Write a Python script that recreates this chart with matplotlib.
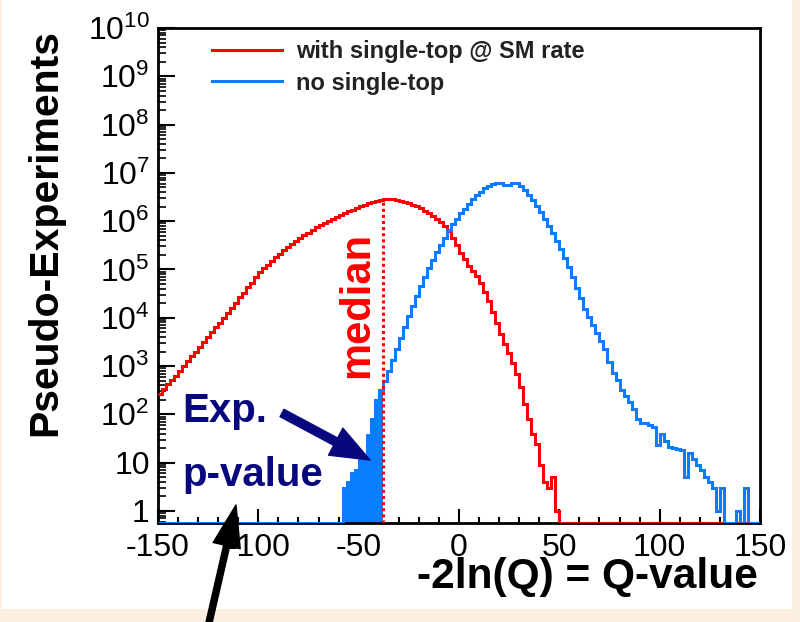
import numpy as np
import matplotlib
matplotlib.use("Agg")
import matplotlib.pyplot as plt
from matplotlib.patches import Rectangle
from matplotlib.ticker import LogLocator, FuncFormatter, MultipleLocator, NullFormatter

plt.rcParams['font.family'] = ['Liberation Sans', 'DejaVu Sans']
plt.rcParams['mathtext.fontset'] = 'custom'
plt.rcParams['mathtext.rm'] = 'Liberation Sans'
plt.rcParams['axes.unicode_minus'] = False

# binning of the -2ln(Q) histograms
q_min, q_max, q_step = -150, 150, 2
median_q = -38

# with single-top @ SM rate: bins starting at -150, empty above 50
red_counts = [
    270, 330, 415, 510, 630, 790, 1000, 1260, 1580, 2000,
    2510, 3160, 3980, 5010, 6310, 7940, 10000, 12600, 16200, 20400,
    26300, 33100, 42700, 53700, 69200, 87100, 105000, 126000, 151000, 182000,
    214000, 251000, 288000, 331000, 389000, 447000, 513000, 575000, 661000, 741000,
    832000, 923000, 1.02e6, 1.12e6, 1.24e6, 1.36e6, 1.48e6, 1.60e6, 1.74e6, 1.88e6,
    2.04e6, 2.19e6, 2.34e6, 2.48e6, 2.66e6, 2.79e6, 2.85e6, 2.88e6, 2.82e6, 2.72e6,
    2.63e6, 2.45e6, 2.34e6, 2.19e6, 2.07e6, 1.86e6, 1.66e6, 1.45e6, 1.26e6, 1.12e6,
    955000, 776000, 631000, 447000, 316000, 224000, 166000, 120000, 93300, 72400,
    51300, 34700, 21900, 12900, 7760, 4570, 2820, 1820, 1170, 690,
    363, 166, 79, 40, 24, 9, 4, 3, 5, 1,
]

# no single-top: bins starting at -58, empty below
blue_start = -58
blue_counts = [
    3, 4, 6, 7, 12, 13, 37, 80, 195, 316,
    480, 790, 1350, 2290, 3890, 6460, 10700, 17800, 28800, 45700,
    70800, 107000, 158000, 229000, 324000, 457000, 646000, 871000, 1.12e6, 1.45e6,
    1.82e6, 2.29e6, 2.82e6, 3.47e6, 4.07e6, 4.79e6, 5.37e6, 5.82e6, 6.10e6, 6.17e6,
    5.62e6, 5.50e6, 6.10e6, 6.03e6, 5.25e6, 4.47e6, 3.55e6, 2.75e6, 2.09e6, 1.55e6,
    1.12e6, 794000, 562000, 389000, 263000, 174000, 112000, 69200, 41700, 25100,
    15100, 10500, 7240, 4900, 3310, 2240, 1200, 710, 525, 316,
    240, 178, 132, 79, 65, 65, 60, 55, 23, 40,
    28, 21, 20, 19, 18, 5, 16, 12, 9, 7,
    5, 4, 3, 1, 3, 0, 0, 0, 1, 0,
    3, 0, 0, 0,
]

RED = '#ff0000'
BLUE = '#0a7cff'
NAVY = '#08087e'
y_floor = 10 ** -0.25

edges = np.arange(q_min, q_max + q_step, q_step)
nbins = len(edges) - 1
red = np.zeros(nbins)
red[:len(red_counts)] = red_counts
blue = np.zeros(nbins)
i0 = (blue_start - q_min) // q_step
blue[i0:i0 + len(blue_counts)] = blue_counts
# empty bins sit on the bottom of the frame, as in ROOT
red_plot = np.where(red > 0, red, y_floor)
blue_plot = np.where(blue > 0, blue, y_floor)
k_med = (median_q - q_min) // q_step

fig = plt.figure(figsize=(8, 6.22), dpi=100, facecolor='#fcefdf')
fig.patches.append(Rectangle((2 / 800, 13 / 622), 790 / 800, 609 / 622,
                             transform=fig.transFigure, facecolor='white',
                             edgecolor='none', zorder=-1))
ax = fig.add_axes([158 / 800, 1 - 523 / 622, 602 / 800, 495 / 622])

h_red = ax.stairs(red_plot, edges, color=RED, lw=2.2, baseline=None, zorder=3)
ax.stairs(blue_plot[:k_med], edges[:k_med + 1], fill=True, baseline=y_floor,
          color=BLUE, lw=0, zorder=2)
h_blue = ax.stairs(blue_plot, edges, color=BLUE, lw=2.2, baseline=None, zorder=4)
ax.vlines(median_q, y_floor, red[k_med], colors=RED, lw=2.2,
          linestyles=(0, (1, 1)), zorder=5)

ax.set_yscale('log')
ax.set_xlim(q_min, q_max)
ax.set_ylim(y_floor, 1e10)

ax.xaxis.set_major_locator(MultipleLocator(50))
ax.xaxis.set_minor_locator(MultipleLocator(10))
ax.yaxis.set_major_locator(LogLocator(base=10, numticks=20))
ax.yaxis.set_minor_locator(LogLocator(base=10, subs=np.arange(2, 10), numticks=20))
ax.yaxis.set_minor_formatter(NullFormatter())


def ylab(v, pos):
    e = int(round(np.log10(v)))
    if e == 0:
        return '1'
    if e == 1:
        return '10'
    return r'$\mathregular{10^{%d}}$' % e


ax.yaxis.set_major_formatter(FuncFormatter(ylab))
ax.tick_params(axis='both', which='both', direction='in', top=False, right=False)
ax.tick_params(axis='x', which='major', length=10, width=1.5, labelsize=23, pad=7)
ax.tick_params(axis='x', which='minor', length=4.5, width=1.5)
ax.tick_params(axis='y', which='major', length=12, width=1.5, labelsize=23, pad=6)
ax.tick_params(axis='y', which='minor', length=6, width=1.2)
for s in ax.spines.values():
    s.set_linewidth(2)

fig.text(45 / 800, 1 - 233 / 622, 'Pseudo-Experiments', rotation=90,
         ha='center', va='center', fontsize=29.5, fontweight='bold')
fig.text(758 / 800, 1 - 577 / 622, '-2ln(Q) = Q-value', ha='right',
         va='center', fontsize=30.5, fontweight='bold')

ax.legend([h_red, h_blue], ['with single-top @ SM rate', 'no single-top'],
          loc='upper left', bbox_to_anchor=(0.0897, 0.975), frameon=False,
          prop={'size': 17, 'weight': 'bold'}, labelcolor='#222222',
          handlelength=2.95, handletextpad=0.6, labelspacing=0.35,
          borderaxespad=0, borderpad=0)

ax.text(0.3306, 0.4404, 'median', transform=ax.transAxes, rotation=90,
        ha='center', va='center', color=RED, fontsize=30, fontweight='bold')
ax.text(0.04, 0.2047, 'Exp.', transform=ax.transAxes, ha='left',
        va='baseline', color=NAVY, fontsize=29, fontweight='bold')
ax.text(0.04, 0.0747, 'p-value', transform=ax.transAxes, ha='left',
        va='baseline', color=NAVY, fontsize=29, fontweight='bold')

ax.annotate('', xy=(370, 162), xytext=(282, 209), xycoords='figure pixels',
            arrowprops=dict(arrowstyle='simple,head_length=1.4,head_width=1.1,tail_width=0.3',
                            mutation_scale=20, color=NAVY, shrinkA=0, shrinkB=0),
            annotation_clip=False, zorder=10)
ax.annotate('', xy=(236, 117), xytext=(208, -5), xycoords='figure pixels',
            arrowprops=dict(arrowstyle='simple,head_length=1.5,head_width=1.0,tail_width=0.22',
                            mutation_scale=20, color='black', shrinkA=0, shrinkB=0),
            annotation_clip=False, zorder=10)

fig.savefig('out.png', dpi=100, facecolor=fig.get_facecolor())
